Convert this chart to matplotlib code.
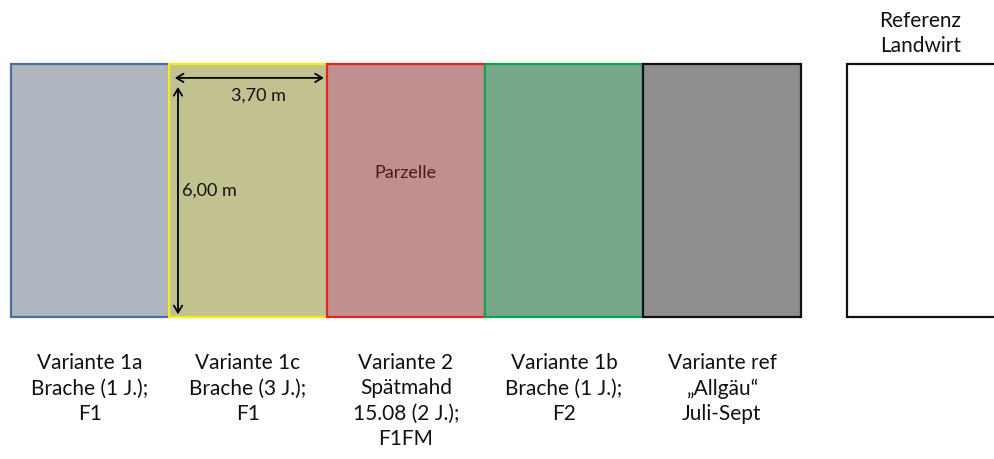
import matplotlib
matplotlib.use('Agg')
import matplotlib.pyplot as plt
import numpy as np

# Parcel data
labels = [
    'Variante 1a\nBrache (1 J.);\nF1',
    'Variante 1c\nBrache (3 J.);\nF1',
    'Variante 2\nSpätmahd\n15.08 (2 J.);\nF1FM',
    'Variante 1b\nBrache (1 J.);\nF2',
    'Variante ref\n\u201eAllgäu\u201c\nJuli-Sept',
    '',
]
top_label = 'Referenz\nLandwirt'
parcel_width = 3.70   # m
parcel_height = 6.00  # m
width_text = '3,70 m'
height_text = '6,00 m'

fill_colors = ['#b0b7c1', '#c2c290', '#c08f8f', '#76a98a', '#8e8e8e', '#ffffff']
edge_colors = ['#4f6ea0', '#f2ee10', '#e62222', '#0aa452', '#111111', '#111111']

plt.rcParams['font.family'] = ['Lato', 'DejaVu Sans']

pxx = 42.6  # pixels per metre, horizontal
pxy = 42.2  # pixels per metre, vertical
fig = plt.figure(figsize=(9.95, 4.59), dpi=100)
ax = fig.add_axes([0, 0, 1, 1])
ax.set_xlim(-11 / pxx, (995 - 11) / pxx)
ax.set_ylim(-(459 - 317) / pxy, parcel_height + 64 / pxy)
ax.axis('off')

gap = 0.01
lefts = list(np.arange(5) * (parcel_width + gap))
lefts.append(lefts[-1] + parcel_width + 1.08)
lefts = np.array(lefts)

ax.bar(lefts, parcel_height, width=parcel_width, align='edge',
       color=fill_colors, edgecolor=edge_colors, linewidth=1.6)

for x, lab in zip(lefts, labels):
    ax.text(x + parcel_width / 2, -0.86, lab, ha='center', va='top',
            fontsize=15, linespacing=1.32, color='#111111')

ax.text(lefts[5] + 1.73, 6.72, top_label, ha='center', va='center',
        fontsize=15, linespacing=1.32, color='#111111')

# dimension arrows on parcel 2
x2 = lefts[1]
arrow = dict(arrowstyle='<->,head_length=0.5,head_width=0.3', color='black', lw=1.3)
ax.annotate('', xy=(x2 + 0.07, 5.67), xytext=(x2 + parcel_width, 5.67),
            arrowprops=arrow)
ax.annotate('', xy=(x2 + 0.21, 5.52), xytext=(x2 + 0.21, 0.0),
            arrowprops=arrow)
ax.text(x2 + 2.1, 5.26, width_text, ha='center', va='center',
        fontsize=13, color='#111111')
ax.text(x2 + 0.3, 3.0, height_text, ha='left', va='center',
        fontsize=13, color='#111111')

ax.text(lefts[2] + parcel_width / 2, 3.41, 'Parzelle', ha='center',
        va='center', fontsize=13, color='#4a1a1a')

fig.savefig('out.png', dpi=100)
